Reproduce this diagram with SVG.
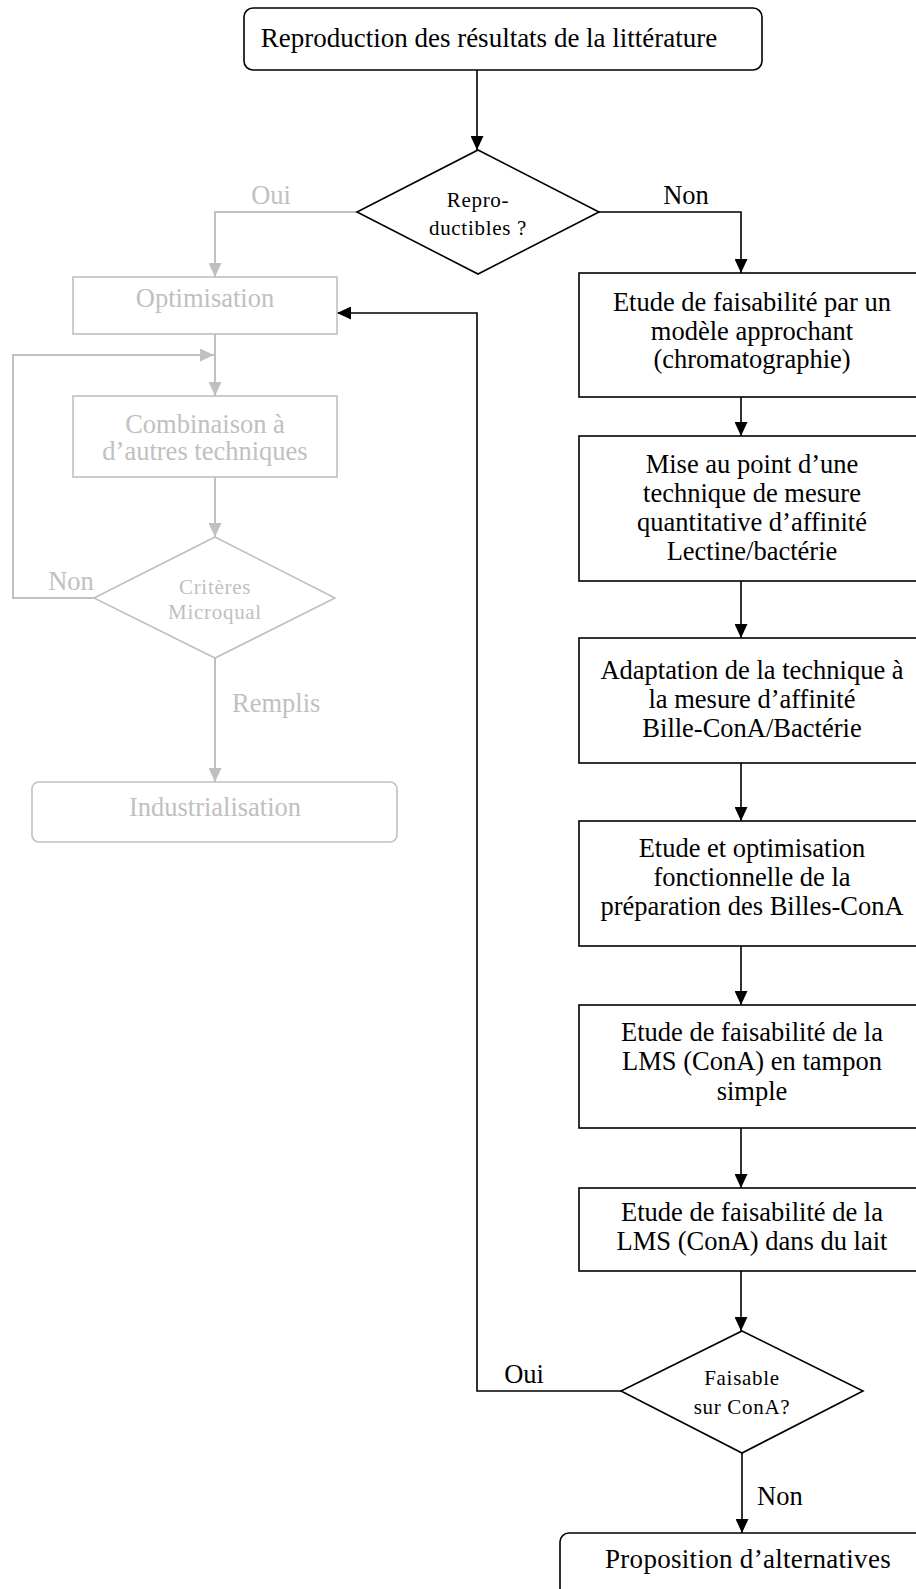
<svg xmlns="http://www.w3.org/2000/svg" width="916" height="1589" viewBox="0 0 916 1589">
<defs>
<style>
text{font-family:"Liberation Serif","Times New Roman",serif;font-size:26.5px;text-anchor:middle;fill:#000}
.g text, text.g{fill:#c0c0c0}
.top{font-size:27px}
.big{font-size:27px;letter-spacing:0.3px}
.dt{font-size:21px;letter-spacing:0.7px}
.box{fill:#fff;stroke:#000;stroke-width:1.6}
.gbox{fill:#fff;stroke:#c0c0c0;stroke-width:1.6}
.ln{fill:none;stroke:#000;stroke-width:1.6}
.gln{fill:none;stroke:#c0c0c0;stroke-width:2}
</style>
<marker id="ab" markerUnits="userSpaceOnUse" markerWidth="14" markerHeight="13" refX="14" refY="6.5" orient="auto">
<path d="M0,0 L14,6.5 L0,13 z" fill="#000"/>
</marker>
<marker id="ag" markerUnits="userSpaceOnUse" markerWidth="14" markerHeight="13" refX="14" refY="6.5" orient="auto">
<path d="M0,0 L14,6.5 L0,13 z" fill="#c0c0c0"/>
</marker>
</defs>
<rect width="916" height="1589" fill="#fff"/>

<g id="connectors">
<path class="ln" d="M477,70 V150" marker-end="url(#ab)"/>
<path class="ln" d="M599,212 H741 V273" marker-end="url(#ab)"/>
<path class="gln" d="M357,212 H215 V277" marker-end="url(#ag)"/>
<path class="gln" d="M215,334 V396" marker-end="url(#ag)"/>
<path class="gln" d="M215,477 V537" marker-end="url(#ag)"/>
<path class="gln" d="M94,598 H13 V355 H214" marker-end="url(#ag)"/>
<path class="gln" d="M215,658 V782" marker-end="url(#ag)"/>
<path class="ln" d="M741,397 V436" marker-end="url(#ab)"/>
<path class="ln" d="M741,581 V638" marker-end="url(#ab)"/>
<path class="ln" d="M741,763 V821" marker-end="url(#ab)"/>
<path class="ln" d="M741,946 V1005" marker-end="url(#ab)"/>
<path class="ln" d="M741,1128 V1188" marker-end="url(#ab)"/>
<path class="ln" d="M741,1271 V1331" marker-end="url(#ab)"/>
<path class="ln" d="M621,1391 H477 V313 H337" marker-end="url(#ab)"/>
<path class="ln" d="M742,1453 V1533" marker-end="url(#ab)"/>
<text x="686" y="204">Non</text>
<text class="g" x="271" y="204">Oui</text>
<text class="g" x="71" y="590">Non</text>
<text class="g" x="232" y="712" style="text-anchor:start">Remplis</text>
<text x="524" y="1383">Oui</text>
<text x="757" y="1505" style="text-anchor:start">Non</text>
</g>

<g id="n-reproduction">
<rect class="box" x="244" y="8" width="518" height="62" rx="9"/>
<text class="top" x="489" y="47">Reproduction des résultats de la littérature</text>
</g>

<g id="n-reproductibles">
<polygon class="box" points="478,150 599,212 478,274 357,212"/>
<text class="dt" x="478" y="207">Repro-</text>
<text class="dt" x="478" y="235">ductibles ?</text>
</g>

<g id="n-optimisation" class="g">
<rect class="gbox" x="73" y="277" width="264" height="57"/>
<text x="205" y="307">Optimisation</text>
</g>

<g id="n-combinaison" class="g">
<rect class="gbox" x="73" y="396" width="264" height="81"/>
<text x="205" y="433">Combinaison à</text>
<text x="205" y="460">d’autres techniques</text>
</g>

<g id="n-criteres" class="g">
<polygon class="gbox" points="215,537 335,598 215,658 94,598"/>
<text class="dt" x="215" y="594">Critères</text>
<text class="dt" x="215" y="619">Microqual</text>
</g>

<g id="n-industrialisation" class="g">
<rect class="gbox" x="32" y="782" width="365" height="60" rx="7"/>
<text x="215" y="816">Industrialisation</text>
</g>

<g id="n-etude1">
<rect class="box" x="579" y="273" width="346" height="124"/>
<text x="752" y="311">Etude de faisabilité par un</text>
<text x="752" y="340">modèle approchant</text>
<text x="752" y="368">(chromatographie)</text>
</g>

<g id="n-miseaupoint">
<rect class="box" x="579" y="436" width="346" height="145"/>
<text x="752" y="473">Mise au point d’une</text>
<text x="752" y="502">technique de mesure</text>
<text x="752" y="531">quantitative d’affinité</text>
<text x="752" y="560">Lectine/bactérie</text>
</g>

<g id="n-adaptation">
<rect class="box" x="579" y="638" width="346" height="125"/>
<text x="752" y="679">Adaptation de la technique à</text>
<text x="752" y="708">la mesure d’affinité</text>
<text x="752" y="737">Bille-ConA/Bactérie</text>
</g>

<g id="n-optim-billes">
<rect class="box" x="579" y="821" width="346" height="125"/>
<text x="752" y="857">Etude et optimisation</text>
<text x="752" y="886">fonctionnelle de la</text>
<text x="752" y="915">préparation des Billes-ConA</text>
</g>

<g id="n-tampon">
<rect class="box" x="579" y="1005" width="346" height="123"/>
<text x="752" y="1041">Etude de faisabilité de la</text>
<text x="752" y="1070">LMS (ConA) en tampon</text>
<text x="752" y="1100">simple</text>
</g>

<g id="n-lait">
<rect class="box" x="579" y="1188" width="346" height="83"/>
<text x="752" y="1221">Etude de faisabilité de la</text>
<text x="752" y="1250">LMS (ConA) dans du lait</text>
</g>

<g id="n-faisable">
<polygon class="box" points="742,1331 863,1391 742,1453 621,1391"/>
<text class="dt" x="742" y="1385">Faisable</text>
<text class="dt" x="742" y="1414">sur ConA?</text>
</g>

<g id="n-alternatives">
<rect class="box" x="560" y="1533" width="370" height="80" rx="9"/>
<text class="big" x="748" y="1568">Proposition d’alternatives</text>
</g>
</svg>
